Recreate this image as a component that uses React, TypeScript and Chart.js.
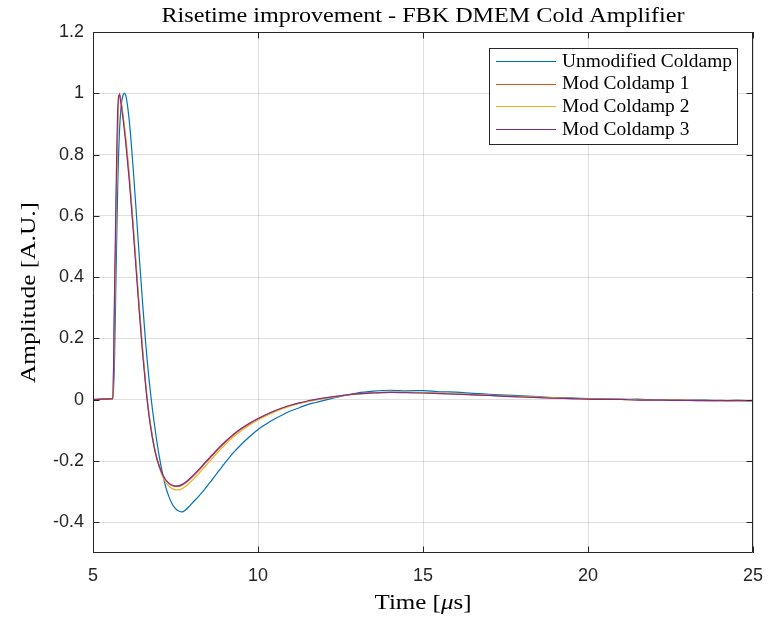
import React, { useEffect, useRef } from "react";
import { Chart, registerables } from "chart.js";

Chart.register(...registerables);

const TITLE = "Risetime improvement - FBK DMEM Cold Amplifier";
const X_LABEL_PARTS = ["Time [", "μ", "s]"];
const Y_LABEL = "Amplitude [A.U.]";

const SERIES_NAMES = ["Unmodified Coldamp", "Mod Coldamp 1", "Mod Coldamp 2", "Mod Coldamp 3"];
const SERIES_COLORS = ["#0072BD", "#D95319", "#EDB120", "#7E2F8E"];

const X_TICKS = [5, 10, 15, 20, 25];
const Y_TICKS = [-0.4, -0.2, 0, 0.2, 0.4, 0.6, 0.8, 1.0, 1.2];

// time in microseconds
const TIME = [
  5.0, 5.3, 5.6, 5.65, 5.7, 5.75, 5.8, 5.85, 5.9, 5.95,
  6.0, 6.1, 6.2, 6.3, 6.4, 6.5, 6.6, 6.7, 6.8, 6.9,
  7.0, 7.1, 7.2, 7.3, 7.4, 7.5, 7.6, 7.7, 7.8, 7.9,
  8.0, 8.2, 8.4, 8.6, 8.8, 9.0, 9.25, 9.5, 9.75, 10.0,
  10.25, 10.5, 10.75, 11.0, 11.25, 11.5, 11.75, 12.0, 12.5, 13.0,
  13.5, 14.0, 14.5, 15.0, 15.5, 16.0, 16.5, 17.0, 17.5, 18.0,
  18.5, 19.0, 19.5, 20.0, 20.5, 21.0, 21.5, 22.0, 22.5, 23.0,
  23.5, 24.0, 24.5, 25.0,
];

const UNMODIFIED = [
  0.0, 0.002, 0.002, 0.12, 0.42, 0.7, 0.87, 0.955, 0.99, 1.0,
  0.99, 0.91, 0.78, 0.63, 0.47, 0.32, 0.18, 0.065, -0.03, -0.11,
  -0.18, -0.237, -0.283, -0.316, -0.34, -0.355, -0.363, -0.366, -0.36, -0.35,
  -0.338, -0.315, -0.29, -0.262, -0.234, -0.206, -0.173, -0.145, -0.12, -0.097,
  -0.079, -0.063, -0.049, -0.036, -0.026, -0.016, -0.009, -0.002, 0.011, 0.022,
  0.028, 0.031, 0.029, 0.03, 0.026, 0.025, 0.021, 0.018, 0.015, 0.013,
  0.01, 0.007, 0.006, 0.004, 0.003, 0.001, 0.002, -0.001, 0.0, -0.002,
  -0.001, -0.003, -0.002, -0.003,
];

const MOD_1 = [
  0.0, 0.003, 0.003, 0.28, 0.62, 0.9, 1.0, 0.975, 0.935, 0.89,
  0.84, 0.725, 0.59, 0.445, 0.3, 0.165, 0.045, -0.05, -0.12, -0.175,
  -0.213, -0.241, -0.261, -0.273, -0.28, -0.283, -0.283, -0.279, -0.272, -0.263,
  -0.253, -0.231, -0.207, -0.184, -0.161, -0.14, -0.116, -0.095, -0.078, -0.063,
  -0.05, -0.038, -0.027, -0.018, -0.011, -0.005, 0.0, 0.005, 0.013, 0.019,
  0.023, 0.025, 0.024, 0.023, 0.021, 0.019, 0.017, 0.014, 0.012, 0.01,
  0.008, 0.006, 0.004, 0.003, 0.002, 0.001, 0.0, -0.001, -0.001, -0.002,
  -0.002, -0.003, -0.002, -0.003,
];

const MOD_2 = [
  0.0, 0.002, 0.001, 0.26, 0.6, 0.88, 0.99, 0.97, 0.935, 0.895,
  0.85, 0.735, 0.6, 0.455, 0.31, 0.175, 0.05, -0.045, -0.12, -0.178,
  -0.218, -0.248, -0.269, -0.282, -0.29, -0.294, -0.294, -0.29, -0.283, -0.274,
  -0.264, -0.242, -0.217, -0.193, -0.169, -0.147, -0.122, -0.1, -0.082, -0.066,
  -0.052, -0.04, -0.029, -0.02, -0.012, -0.006, -0.001, 0.004, 0.012, 0.018,
  0.022, 0.024, 0.025, 0.023, 0.022, 0.019, 0.017, 0.015, 0.012, 0.01,
  0.009, 0.006, 0.005, 0.003, 0.002, 0.001, 0.0, -0.002, -0.001, -0.002,
  -0.003, -0.003, -0.004, -0.002,
];

const MOD_3 = [
  0.001, 0.002, 0.004, 0.33, 0.68, 0.95, 0.995, 0.965, 0.925, 0.88,
  0.83, 0.715, 0.58, 0.435, 0.29, 0.155, 0.04, -0.055, -0.125, -0.178,
  -0.215, -0.242, -0.261, -0.272, -0.279, -0.281, -0.28, -0.276, -0.269, -0.26,
  -0.25, -0.228, -0.204, -0.181, -0.158, -0.137, -0.113, -0.093, -0.076, -0.061,
  -0.048, -0.036, -0.026, -0.017, -0.01, -0.004, 0.001, 0.006, 0.013, 0.019,
  0.022, 0.024, 0.023, 0.022, 0.02, 0.018, 0.016, 0.014, 0.011, 0.009,
  0.007, 0.005, 0.004, 0.002, 0.001, 0.001, -0.001, -0.001, -0.002, -0.002,
  -0.003, -0.002, -0.003, -0.003,
];

const SERIES_VALUES = [UNMODIFIED, MOD_1, MOD_2, MOD_3];

const AXIS_COLOR = "#262626";
const GRID_COLOR = "rgba(38,38,38,0.15)";
const SERIF = "'Liberation Serif', 'DejaVu Serif', serif";
const SANS = "'Liberation Sans', Arial, sans-serif";

function fitScale(ctx: CanvasRenderingContext2D, text: string, target: number) {
  const w = ctx.measureText(text).width;
  return w > 0 ? target / w : 1;
}

const matlabPlugin = {
  id: "matlabDecor",
  afterDatasetsDraw(chart: any) {
    const ctx: CanvasRenderingContext2D = chart.ctx;
    const { left, right, top, bottom } = chart.chartArea;
    const xs = chart.scales.x;
    const ys = chart.scales.y;
    ctx.save();
    // box
    ctx.strokeStyle = AXIS_COLOR;
    ctx.lineWidth = 1;
    ctx.beginPath();
    ctx.rect(Math.round(left) + 0.5, Math.round(top) + 0.5, Math.round(right - left) - 1, Math.round(bottom - top) - 1);
    ctx.stroke();
    // inner ticks
    const tl = 6.5;
    ctx.beginPath();
    X_TICKS.forEach((v) => {
      const px = Math.round(xs.getPixelForValue(v)) + 0.5;
      ctx.moveTo(px, bottom);
      ctx.lineTo(px, bottom - tl);
      ctx.moveTo(px, top);
      ctx.lineTo(px, top + tl);
    });
    Y_TICKS.forEach((v) => {
      const py = Math.round(ys.getPixelForValue(v)) + 0.5;
      ctx.moveTo(left, py);
      ctx.lineTo(left + tl, py);
      ctx.moveTo(right, py);
      ctx.lineTo(right - tl, py);
    });
    ctx.stroke();

    // legend
    const lx = 489.5, ly = 48.5, lw = 248, lh = 96;
    ctx.fillStyle = "#ffffff";
    ctx.fillRect(lx, ly, lw, lh);
    ctx.strokeStyle = AXIS_COLOR;
    ctx.strokeRect(lx, ly, lw, lh);
    ctx.font = `18px ${SERIF}`;
    ctx.textBaseline = "middle";
    ctx.textAlign = "left";
    const legendScale = fitScale(ctx, SERIES_NAMES[0], 170);
    chart.data.datasets.forEach((ds: any, i: number) => {
      const rowY = 61 + i * 22.7;
      ctx.strokeStyle = ds.borderColor;
      ctx.lineWidth = 1;
      ctx.beginPath();
      ctx.moveTo(496, Math.round(rowY) + 0.5);
      ctx.lineTo(556, Math.round(rowY) + 0.5);
      ctx.stroke();
      ctx.fillStyle = "#000000";
      ctx.save();
      ctx.translate(562, rowY + 1);
      ctx.scale(legendScale, 1);
      ctx.fillText(ds.label, 0, 0);
      ctx.restore();
    });

    // title
    const cx = (left + right) / 2;
    ctx.fillStyle = "#000000";
    ctx.font = `22px ${SERIF}`;
    ctx.textAlign = "center";
    ctx.textBaseline = "alphabetic";
    const ts = fitScale(ctx, TITLE, 523);
    ctx.save();
    ctx.translate(cx, 21.7);
    ctx.scale(ts, 1);
    ctx.fillText(TITLE, 0, 0);
    ctx.restore();

    // x label (with italic mu)
    const fonts = [`22px ${SERIF}`, `italic 22px ${SERIF}`, `22px ${SERIF}`];
    const widths = X_LABEL_PARTS.map((p, i) => {
      ctx.font = fonts[i];
      return ctx.measureText(p).width;
    });
    const total = widths.reduce((a, b) => a + b, 0);
    const xsScale = 97 / total;
    ctx.save();
    ctx.translate(cx - 97 / 2, 609);
    ctx.scale(xsScale, 1);
    ctx.textAlign = "left";
    let off = 0;
    X_LABEL_PARTS.forEach((p, i) => {
      ctx.font = fonts[i];
      ctx.fillText(p, off, 0);
      off += widths[i];
    });
    ctx.restore();

    // y label
    ctx.font = `22px ${SERIF}`;
    const ysc = fitScale(ctx, Y_LABEL, 181);
    ctx.save();
    ctx.translate(35, (top + bottom) / 2);
    ctx.rotate(-Math.PI / 2);
    ctx.scale(ysc, 1);
    ctx.textAlign = "center";
    ctx.fillText(Y_LABEL, 0, 0);
    ctx.restore();

    ctx.restore();
  },
};

export default function App() {
  const canvasRef = useRef<HTMLCanvasElement | null>(null);

  useEffect(() => {
    const canvas = canvasRef.current;
    if (!canvas) return;
    const datasets = SERIES_NAMES.map((name, i) => ({
      label: name,
      data: TIME.map((t, k) => ({ x: t, y: SERIES_VALUES[i][k] })),
      borderColor: SERIES_COLORS[i],
      backgroundColor: SERIES_COLORS[i],
      borderWidth: 1.2,
      pointRadius: 0,
      cubicInterpolationMode: "monotone" as const,
      fill: false,
      order: SERIES_NAMES.length - i,
    }));

    const tickFont = { family: SANS, size: 18 };

    const chart = new Chart(canvas, {
      type: "line",
      data: { datasets },
      options: {
        animation: false,
        responsive: true,
        maintainAspectRatio: false,
        layout: { padding: { top: 32, right: 16, left: 0, bottom: 0 } },
        plugins: {
          legend: { display: false },
          tooltip: { enabled: false },
          title: { display: false },
        },
        scales: {
          x: {
            type: "linear",
            min: 5,
            max: 25,
            afterBuildTicks: (s: any) => {
              s.ticks = X_TICKS.map((v) => ({ value: v }));
            },
            afterFit: (s: any) => {
              s.height = 67;
              s.paddingLeft = 0;
              s.paddingRight = 0;
            },
            grid: { color: GRID_COLOR, drawTicks: false, lineWidth: 1 },
            border: { display: false },
            ticks: {
              font: tickFont,
              color: AXIS_COLOR,
              padding: 12,
              maxRotation: 0,
              autoSkip: false,
              callback: (v: any) => String(v),
            },
          },
          y: {
            type: "linear",
            min: -0.5,
            max: 1.2,
            afterBuildTicks: (s: any) => {
              s.ticks = Y_TICKS.map((v) => ({ value: v }));
            },
            afterFit: (s: any) => {
              s.width = 93;
              s.paddingTop = 0;
              s.paddingBottom = 0;
            },
            grid: { color: GRID_COLOR, drawTicks: false, lineWidth: 1 },
            border: { display: false },
            ticks: {
              font: tickFont,
              color: AXIS_COLOR,
              padding: 9,
              autoSkip: false,
              callback: (v: any) => String(Math.round(Number(v) * 10) / 10),
            },
          },
        },
      },
      plugins: [matlabPlugin],
    });
    return () => chart.destroy();
  }, []);

  return (
    <div style={{ position: "absolute", left: 0, top: 0, width: 769, height: 620, background: "#ffffff" }}>
      <canvas ref={canvasRef} />
    </div>
  );
}
